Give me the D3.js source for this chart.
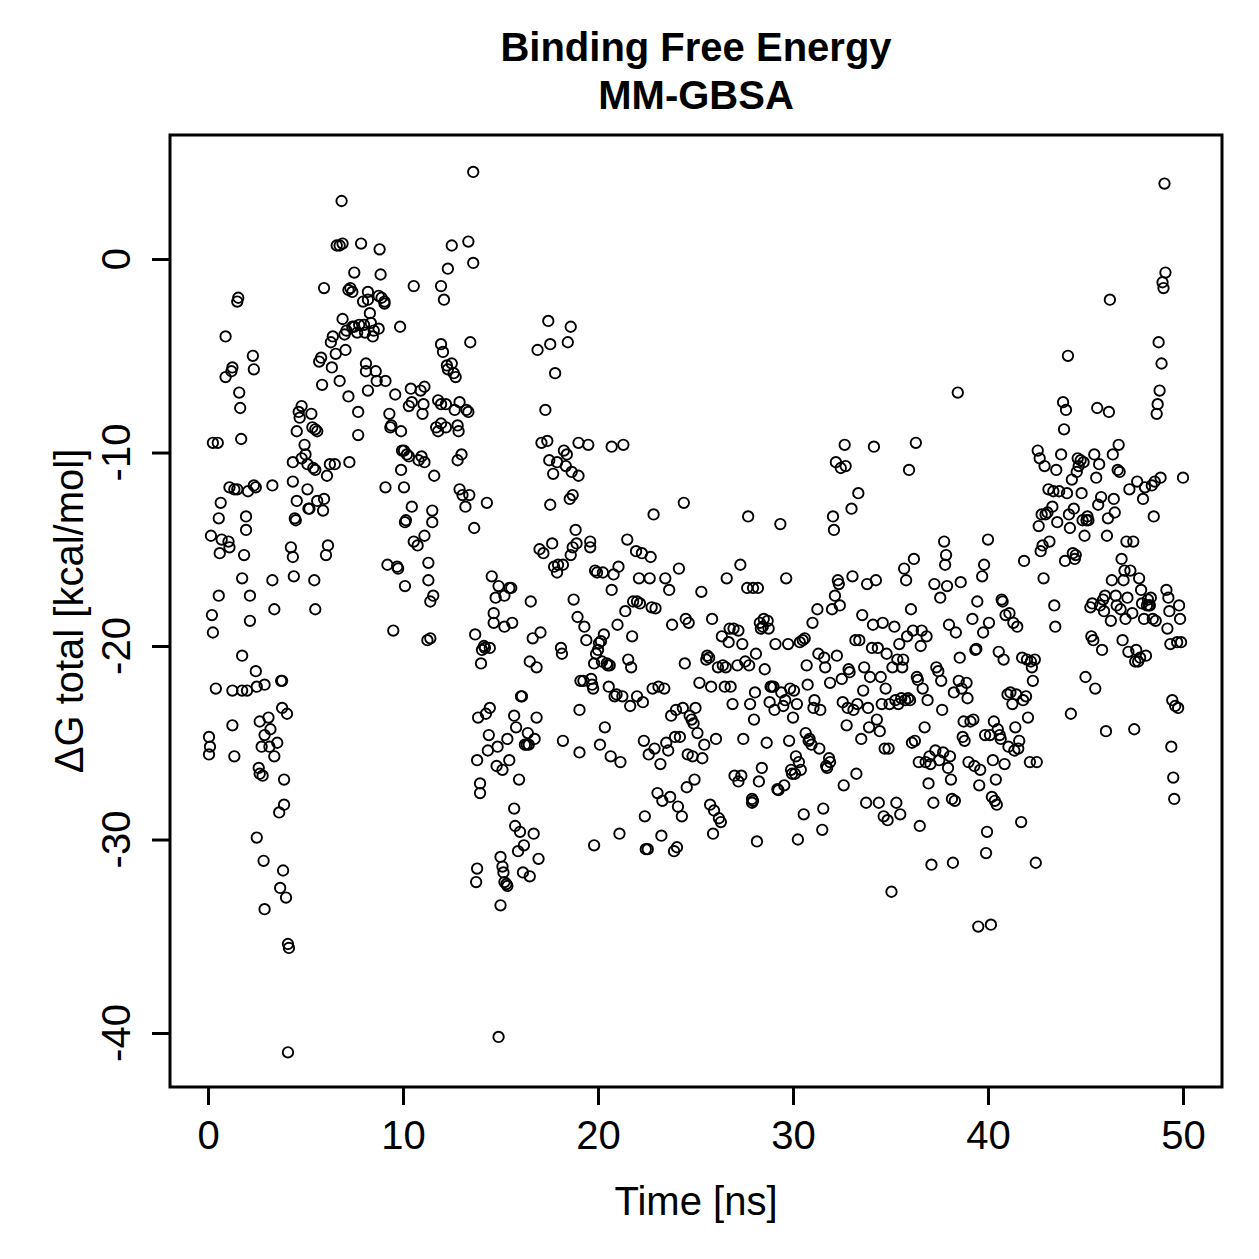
<!DOCTYPE html>
<html>
<head>
<meta charset="utf-8">
<script src="https://cdn.jsdelivr.net/npm/d3@7"></script>
<style>
  html, body { margin: 0; padding: 0; background: #fff; }
  svg { display: block; }
  text { font-family: "Liberation Sans", Arial, Helvetica, sans-serif; fill: #000; }
</style>
</head>
<body>
<svg id="chart" width="1259" height="1259"></svg>
<script>
// ---- Data: [time (ns), ΔG total (kcal/mol)] ----
const seg0to5 = [[0.05,-24.7],[0.05,-25.6],[0.1,-25.2],[0.15,-14.3],[0.2,-18.4],[0.25,-19.3],[0.25,-9.5],[0.4,-22.2],[0.5,-9.5],[0.55,-13.4],[0.55,-17.4],[0.6,-15.2],[0.65,-12.6],[0.7,-14.5],[0.9,-4.0],[0.9,-6.1],[1.05,-14.6],[1.1,-11.8],[1.1,-14.9],[1.2,-5.8],[1.25,-5.6],[1.25,-22.3],[1.25,-24.1],[1.35,-25.7],[1.35,-11.9],[1.5,-2.2],[1.55,-2.0],[1.6,-6.9],[1.65,-7.7],[1.7,-9.3],[1.5,-11.9],[1.75,-16.5],[1.75,-20.5],[1.75,-22.3],[1.85,-15.3],[1.95,-13.3],[1.95,-14.0],[2.05,-12.0],[2.15,-17.4],[2.15,-18.7],[2.0,-22.3],[2.3,-5.0],[2.35,-5.7],[2.35,-11.7],[2.45,-11.8],[2.45,-21.3],[2.5,-22.1],[2.6,-26.3],[2.65,-26.6],[2.5,-29.9],[2.65,-23.9],[2.75,-25.2],[2.8,-26.7],[2.85,-31.1],[2.9,-33.6],[2.9,-24.6],[2.9,-22.0],[3.1,-23.7],[3.2,-24.3],[3.15,-25.2],[3.3,-11.7],[3.3,-16.6],[3.4,-18.1],[3.4,-25.7],[3.55,-25.0],[3.65,-28.6],[3.7,-32.5],[3.75,-21.8],[3.8,-21.8],[3.8,-23.2],[3.85,-31.6],[3.9,-26.9],[3.9,-28.2],[4.0,-33.0],[4.1,-35.4],[4.15,-35.6],[4.1,-41.0],[4.05,-23.5],[4.25,-14.9],[4.35,-15.4],[4.4,-16.4],[4.35,-10.5],[4.35,-11.5],[4.45,-13.4],[4.5,-13.5],[4.55,-12.5],[4.55,-8.9],[4.65,-7.9],[4.7,-8.2],[4.8,-7.6],[4.8,-10.3]];
const seg5to10 = [[5.0,-10.1],[4.95,-9.6],[5.1,-10.6],[5.1,-11.9],[5.15,-12.9],[5.2,-12.9],[5.3,-8.0],[5.35,-8.7],[5.5,-8.8],[5.6,-8.9],[5.4,-10.8],[5.5,-10.9],[5.45,-16.6],[5.5,-18.1],[5.6,-12.5],[5.7,-5.3],[5.8,-5.1],[5.95,-1.5],[5.85,-6.5],[5.9,-13.0],[5.95,-12.4],[6.05,-15.3],[6.15,-14.8],[6.1,-11.2],[6.25,-10.6],[6.3,-4.3],[6.35,-5.6],[6.4,-4.0],[6.55,-4.9],[6.5,-10.6],[6.6,0.7],[6.75,0.7],[6.75,-6.3],[6.85,3.0],[6.9,0.8],[6.9,-3.1],[7.0,-3.9],[7.1,-3.7],[7.05,-4.7],[7.2,-1.6],[7.3,-1.5],[7.4,-1.7],[7.2,-7.1],[7.25,-10.5],[7.4,-3.5],[7.5,-3.5],[7.5,-0.7],[7.65,-3.8],[7.75,-3.4],[7.7,-9.1],[7.7,-7.9],[7.85,0.8],[7.95,-2.2],[8.0,-3.4],[8.05,-3.8],[8.1,-5.4],[8.1,-5.8],[8.2,-1.7],[8.2,-2.1],[8.2,-6.8],[8.3,-2.8],[8.35,-3.3],[8.45,-4.0],[8.5,-3.7],[8.6,-5.8],[8.65,-6.3],[8.75,-1.9],[8.75,-3.6],[8.8,0.5],[8.85,-0.8],[8.9,-2.0],[9.05,-2.2],[9.05,-2.3],[9.1,-6.3],[9.1,-11.8],[9.2,-15.8],[9.3,-8.0],[9.35,-8.7],[9.4,-8.6],[9.5,-19.2],[9.6,-7.0],[9.7,-15.9],[9.75,-16.0],[9.85,-3.5],[9.9,-10.9],[9.9,-8.9],[9.95,-9.9]];
const seg10to15 = [[10.05,-9.9],[10.2,-10.1],[10.3,-10.2],[10.05,-11.8],[10.1,-13.6],[10.1,-16.9],[10.15,-13.5],[10.3,-7.6],[10.4,-6.7],[10.55,-1.4],[10.45,-7.4],[10.45,-12.8],[10.55,-14.6],[10.75,-14.8],[10.8,-10.4],[10.9,-6.8],[11.0,-8.0],[10.95,-10.2],[11.05,-7.5],[11.1,-6.6],[11.1,-10.5],[11.1,-14.3],[11.3,-15.7],[11.3,-16.6],[11.25,-19.7],[11.4,-19.6],[11.4,-17.7],[11.55,-17.4],[11.5,-13.0],[11.5,-13.6],[11.6,-11.2],[11.7,-8.7],[11.8,-8.9],[11.8,-7.3],[11.95,-7.5],[11.95,-8.5],[11.95,-1.4],[12.1,-2.1],[11.95,-4.4],[12.05,-4.8],[12.25,-5.5],[12.3,-5.7],[12.2,-7.5],[12.2,-8.7],[12.3,-0.5],[12.5,0.7],[12.5,-5.4],[12.6,-5.9],[12.65,-7.8],[12.7,-6.1],[12.8,-8.6],[12.9,-7.4],[12.85,-8.9],[12.8,-10.4],[12.9,-11.9],[13.0,-10.1],[13.05,-12.2],[13.2,-12.8],[13.25,-7.8],[13.35,-7.9],[13.35,0.9],[13.4,-12.2],[13.45,-4.3],[13.6,-0.2],[13.6,4.5],[13.65,-13.9],[13.7,-19.4],[13.8,-25.9],[13.8,-31.5],[13.75,-32.2],[13.85,-23.7],[13.95,-27.1],[13.95,-27.6],[14.0,-20.9],[14.05,-20.2],[14.15,-20.0],[14.2,-20.1],[14.25,-23.5],[14.3,-12.6],[14.35,-25.4],[14.4,-24.6],[14.45,-20.1],[14.45,-23.2],[14.55,-16.4],[14.65,-18.3],[14.65,-18.8],[14.75,-17.5],[14.8,-26.2],[14.85,-25.2],[14.9,-40.2],[14.9,-16.9]];
const seg15to20 = [[15.0,-33.4],[15.0,-30.9],[15.1,-31.4],[15.1,-26.4],[15.15,-31.7],[15.2,-32.2],[15.3,-32.3],[15.35,-32.4],[15.2,-19.0],[15.2,-17.4],[15.35,-24.8],[15.45,-25.9],[15.45,-17.0],[15.55,-17.0],[15.6,-18.8],[15.7,-23.6],[15.7,-28.4],[15.75,-29.3],[15.8,-24.2],[15.9,-30.6],[15.95,-26.9],[16.0,-29.6],[16.05,-22.6],[16.1,-22.6],[16.15,-31.7],[16.2,-30.3],[16.25,-25.1],[16.35,-25.1],[16.4,-24.5],[16.45,-25.1],[16.5,-20.8],[16.5,-31.9],[16.55,-17.7],[16.65,-19.6],[16.7,-29.7],[16.75,-24.8],[16.85,-21.1],[16.85,-23.7],[16.9,-4.7],[16.95,-31.0],[17.0,-15.0],[17.05,-19.3],[17.1,-9.5],[17.2,-15.2],[17.3,-7.8],[17.4,-9.4],[17.45,-3.2],[17.55,-4.4],[17.5,-10.4],[17.55,-12.7],[17.65,-14.7],[17.7,-11.1],[17.75,-15.9],[17.8,-5.9],[17.9,-10.5],[17.9,-16.2],[17.95,-15.8],[18.1,-20.1],[18.15,-20.4],[18.2,-24.9],[18.2,-15.8],[18.25,-9.9],[18.35,-10.7],[18.4,-10.1],[18.45,-4.3],[18.55,-12.4],[18.6,-3.5],[18.6,-15.3],[18.65,-11.0],[18.7,-12.2],[18.7,-14.9],[18.75,-17.6],[18.85,-14.0],[18.9,-14.7],[18.95,-18.5],[19.0,-11.2],[19.0,-9.5],[19.05,-23.3],[19.05,-25.5],[19.1,-21.8],[19.25,-21.8],[19.3,-19.0],[19.4,-19.7],[19.5,-9.6],[19.6,-14.6],[19.6,-14.9],[19.65,-21.7],[19.7,-22.0],[19.75,-22.2],[19.8,-30.3],[19.8,-20.9],[19.85,-16.1],[19.9,-20.4],[19.95,-16.2]];
const seg20to25 = [[20.0,-20.2],[20.05,-19.85],[20.15,-19.75],[20.1,-25.1],[20.2,-20.8],[20.25,-16.2],[20.3,-19.4],[20.35,-24.2],[20.45,-20.9],[20.5,-21.0],[20.6,-21.0],[20.55,-22.1],[20.65,-25.7],[20.7,-17.1],[20.7,-9.7],[20.8,-16.3],[20.85,-22.6],[20.95,-22.5],[21.0,-18.9],[21.05,-15.9],[21.1,-29.7],[21.15,-26.0],[21.25,-22.6],[21.3,-9.6],[21.4,-18.2],[21.5,-14.5],[21.55,-20.7],[21.65,-23.1],[21.7,-21.1],[21.75,-19.5],[21.8,-17.7],[21.95,-15.1],[22.0,-17.7],[22.0,-22.6],[22.1,-16.5],[22.15,-17.8],[22.25,-15.2],[22.3,-22.9],[22.35,-24.9],[22.4,-28.8],[22.45,-30.5],[22.55,-30.5],[22.6,-25.6],[22.65,-16.5],[22.7,-15.4],[22.75,-18.0],[22.8,-22.2],[22.85,-13.2],[22.9,-25.3],[22.95,-18.05],[23.05,-27.6],[23.1,-22.1],[23.2,-26.1],[23.25,-29.8],[23.3,-28.0],[23.4,-22.2],[23.45,-16.5],[23.5,-25.0],[23.6,-25.4],[23.65,-17.1],[23.7,-27.8],[23.75,-23.6],[23.8,-18.9],[23.9,-30.6],[23.95,-24.7],[24.0,-23.3],[24.05,-30.4],[24.1,-28.3],[24.15,-16.0],[24.2,-24.7],[24.3,-28.8],[24.35,-23.2],[24.4,-12.6],[24.45,-20.9],[24.5,-18.6],[24.55,-27.3],[24.6,-25.6],[24.65,-18.8],[24.7,-23.6],[24.8,-23.8],[24.9,-24.0],[24.85,-25.7],[24.95,-26.9]];
const seg25to30 = [[25.0,-23.2],[25.1,-24.5],[25.2,-21.9],[25.3,-17.2],[25.35,-25.8],[25.45,-25.1],[25.55,-20.7],[25.6,-20.5],[25.7,-20.6],[25.75,-28.2],[25.8,-22.1],[25.85,-18.6],[25.9,-29.7],[25.95,-28.5],[26.05,-24.8],[26.15,-21.1],[26.2,-28.9],[26.3,-29.1],[26.35,-19.5],[26.4,-21.0],[26.5,-22.1],[26.55,-21.1],[26.6,-16.5],[26.7,-19.8],[26.75,-19.1],[26.8,-22.1],[26.9,-23.0],[26.95,-19.1],[27.0,-26.7],[27.15,-21.0],[27.2,-19.2],[27.2,-27.0],[27.3,-15.8],[27.35,-26.7],[27.4,-19.9],[27.45,-24.8],[27.55,-20.8],[27.65,-17.0],[27.7,-13.3],[27.75,-21.0],[27.8,-23.0],[27.9,-27.9],[27.9,-28.1],[27.95,-28.0],[27.95,-17.0],[28.0,-23.8],[28.05,-22.4],[28.1,-20.4],[28.15,-30.1],[28.2,-17.0],[28.25,-27.0],[28.3,-18.8],[28.35,-19.1],[28.45,-19.0],[28.4,-26.3],[28.5,-18.6],[28.55,-21.2],[28.65,-25.0],[28.7,-18.7],[28.75,-19.1],[28.8,-22.9],[28.85,-22.1],[28.9,-22.1],[29.0,-22.1],[29.05,-23.3],[29.1,-19.9],[29.2,-27.4],[29.25,-27.45],[29.35,-13.7],[29.4,-22.4],[29.5,-23.1],[29.55,-27.2],[29.6,-22.8],[29.65,-16.5],[29.75,-19.9],[29.8,-24.9],[29.85,-22.2],[29.9,-26.4],[29.95,-26.6],[30.0,-23.7]];
const seg30to35 = [[30.05,-22.3],[30.1,-26.6],[30.15,-25.7],[30.2,-23.0],[30.25,-30.0],[30.3,-26.0],[30.35,-19.8],[30.4,-26.4],[30.5,-19.7],[30.55,-28.7],[30.6,-19.6],[30.65,-24.5],[30.7,-21.0],[30.75,-22.0],[30.8,-24.9],[30.85,-24.8],[30.95,-25.1],[31.0,-18.8],[31.05,-23.2],[31.1,-22.8],[31.25,-18.1],[31.3,-20.4],[31.35,-25.3],[31.4,-23.3],[31.5,-29.5],[31.55,-28.4],[31.6,-20.6],[31.65,-21.1],[31.7,-26.2],[31.75,-26.3],[31.85,-25.8],[31.9,-26.0],[31.9,-21.9],[32.0,-18.1],[32.05,-13.3],[32.1,-14.0],[32.15,-17.4],[32.2,-10.5],[32.25,-20.5],[32.3,-16.6],[32.35,-16.8],[32.4,-17.9],[32.45,-10.8],[32.5,-21.7],[32.55,-22.9],[32.6,-27.2],[32.65,-9.6],[32.7,-10.7],[32.75,-24.1],[32.8,-23.2],[32.85,-21.2],[32.9,-21.35],[33.0,-12.9],[33.05,-16.4],[33.1,-23.3],[33.2,-19.7],[33.25,-26.6],[33.3,-23.0],[33.35,-12.1],[33.4,-19.7],[33.5,-24.8],[33.55,-18.4],[33.6,-22.3],[33.65,-21.1],[33.75,-28.1],[33.8,-16.8],[33.85,-23.2],[33.9,-24.2],[33.95,-21.6],[34.05,-20.1],[34.1,-18.9],[34.15,-9.7],[34.25,-16.6],[34.3,-23.8],[34.35,-20.1],[34.4,-28.1],[34.45,-24.4],[34.5,-21.6],[34.55,-23.0],[34.6,-18.8],[34.65,-28.8],[34.7,-25.3],[34.75,-22.2],[34.8,-20.4],[34.85,-29.0],[34.9,-25.3],[34.95,-23.0]];
const seg35to40 = [[35.05,-32.7],[35.1,-21.1],[35.2,-19.0],[35.25,-22.8],[35.3,-28.1],[35.35,-20.7],[35.4,-23.0],[35.45,-19.9],[35.5,-28.7],[35.55,-22.7],[35.6,-21.1],[35.65,-20.7],[35.7,-16.0],[35.75,-22.8],[35.8,-16.6],[35.85,-19.5],[35.9,-22.7],[35.95,-10.9],[36.0,-22.8],[36.05,-18.1],[36.1,-25.0],[36.15,-19.2],[36.2,-15.5],[36.25,-24.9],[36.3,-9.5],[36.35,-21.6],[36.4,-21.75],[36.45,-26.0],[36.5,-29.3],[36.55,-20.0],[36.6,-19.2],[36.65,-22.2],[36.75,-24.2],[36.8,-26.0],[36.85,-19.5],[36.9,-22.8],[36.95,-27.1],[37.0,-25.7],[37.05,-26.1],[37.1,-31.3],[37.2,-28.1],[37.25,-16.8],[37.3,-25.4],[37.35,-21.1],[37.45,-21.3],[37.5,-25.9],[37.55,-17.5],[37.6,-21.8],[37.65,-23.3],[37.7,-25.5],[37.75,-14.6],[37.8,-15.8],[37.85,-15.3],[37.9,-16.9],[37.95,-26.3],[38.0,-18.9],[38.05,-25.7],[38.1,-26.9],[38.15,-27.9],[38.2,-31.2],[38.25,-22.4],[38.3,-28.0],[38.35,-19.3],[38.45,-6.9],[38.5,-21.8],[38.55,-20.6],[38.6,-16.7],[38.65,-22.2],[38.7,-24.7],[38.75,-23.9],[38.8,-24.9],[38.9,-21.9],[38.95,-22.7],[39.0,-26.0],[39.1,-23.9],[39.2,-18.6],[39.25,-23.8],[39.3,-26.2],[39.35,-20.2],[39.4,-20.15],[39.45,-17.7],[39.5,-34.5],[39.55,-27.2],[39.6,-26.4],[39.7,-16.4],[39.75,-19.3],[39.8,-15.8],[39.85,-24.6],[39.9,-30.7],[39.95,-29.6],[40.0,-14.5]];
const seg40to45 = [[40.05,-18.8],[40.1,-24.6],[40.15,-34.4],[40.2,-27.8],[40.25,-25.9],[40.3,-23.9],[40.35,-28.0],[40.4,-26.9],[40.45,-28.2],[40.5,-24.3],[40.55,-20.3],[40.6,-24.6],[40.65,-24.8],[40.7,-17.6],[40.75,-17.7],[40.8,-20.7],[40.85,-26.1],[40.9,-18.4],[41.0,-22.5],[41.05,-25.2],[41.1,-18.3],[41.15,-22.4],[41.25,-23.0],[41.3,-18.8],[41.35,-25.4],[41.4,-24.2],[41.45,-22.5],[41.5,-19.0],[41.55,-25.3],[41.6,-24.9],[41.7,-29.1],[41.75,-20.6],[41.8,-22.8],[41.85,-15.6],[41.95,-22.6],[42.0,-20.7],[42.05,-23.7],[42.15,-26.0],[42.2,-20.8],[42.25,-21.1],[42.3,-21.8],[42.4,-20.7],[42.45,-31.2],[42.5,-26.0],[42.55,-9.9],[42.6,-13.8],[42.65,-10.3],[42.7,-15.1],[42.75,-13.2],[42.8,-14.8],[42.85,-16.5],[42.9,-10.7],[42.95,-13.2],[43.05,-13.1],[43.1,-11.9],[43.15,-14.6],[43.3,-12.8],[43.35,-12.0],[43.4,-17.9],[43.45,-19.0],[43.5,-10.9],[43.55,-13.6],[43.65,-12.0],[43.75,-10.1],[43.85,-7.4],[43.9,-8.8],[43.95,-15.6],[44.0,-7.8],[44.05,-12.1],[44.1,-5.0],[44.15,-13.2],[44.2,-13.9],[44.25,-23.5],[44.3,-11.4],[44.35,-15.2],[44.4,-12.9],[44.45,-15.5],[44.5,-15.3],[44.55,-11.0],[44.6,-10.3],[44.65,-10.7],[44.75,-10.4],[44.8,-12.1],[44.85,-13.5],[44.9,-10.5],[44.95,-14.3]];
const seg45to50 = [[45.0,-21.6],[45.05,-13.5],[45.1,-13.3],[45.15,-13.5],[45.25,-18.0],[45.3,-19.5],[45.35,-17.8],[45.4,-19.7],[45.45,-10.1],[45.5,-22.2],[45.55,-11.3],[45.6,-7.7],[45.65,-12.7],[45.7,-10.6],[45.75,-17.9],[45.8,-12.3],[45.85,-20.2],[45.9,-17.6],[45.95,-18.2],[46.0,-17.4],[46.05,-24.4],[46.1,-14.3],[46.15,-13.4],[46.2,-7.9],[46.25,-2.1],[46.3,-18.7],[46.35,-16.6],[46.4,-10.1],[46.45,-12.4],[46.5,-13.1],[46.55,-17.4],[46.6,-17.9],[46.65,-10.9],[46.7,-9.6],[46.75,-11.0],[46.8,-18.1],[46.85,-15.5],[46.9,-19.7],[46.95,-16.6],[47.0,-16.1],[47.05,-18.6],[47.1,-14.6],[47.15,-17.5],[47.2,-20.3],[47.25,-11.9],[47.3,-16.1],[47.4,-18.3],[47.45,-14.6],[47.5,-24.3],[47.55,-20.8],[47.6,-20.2],[47.65,-11.5],[47.7,-20.8],[47.75,-16.5],[47.8,-20.6],[47.85,-17.1],[47.9,-17.8],[47.95,-12.4],[48.0,-18.6],[48.05,-11.8],[48.1,-20.5],[48.15,-17.9],[48.2,-17.6],[48.25,-17.9],[48.3,-17.9],[48.35,-17.5],[48.4,-11.7],[48.45,-18.6],[48.5,-13.3],[48.55,-11.5],[48.6,-18.7],[48.65,-8.0],[48.7,-7.5],[48.75,-4.3],[48.8,-6.8],[48.85,-11.3],[48.9,-5.4],[48.95,-1.2],[49.0,-1.5],[49.05,3.9],[49.1,-0.7],[49.15,-17.1],[49.2,-19.1],[49.25,-17.5],[49.3,-18.2],[49.35,-19.9],[49.4,-25.2],[49.45,-22.8],[49.5,-26.8],[49.55,-27.9],[49.6,-23.1],[49.7,-19.8],[49.75,-23.2],[49.8,-17.9],[49.85,-18.6],[49.9,-19.8],[50.0,-11.3]];

const xTicks = [0, 10, 20, 30, 40, 50];
const yTicks = [0, -10, -20, -30, -40];
const titleLines = ["Binding Free Energy", "MM-GBSA"];
const xLabel = "Time [ns]";
const yLabel = "ΔG total [kcal/mol]";

// ---- Layout ----
const W = 1259, H = 1259;
const plot = { left: 170, right: 1222, top: 135, bottom: 1087 };
const FS = 40;

const allPoints = [].concat(seg0to5, seg5to10, seg10to15, seg15to20, seg20to25,
                            seg25to30, seg30to35, seg35to40, seg40to45, seg45to50);

const x = d3.scaleLinear().domain([-1.95, 52]).range([plot.left, plot.right]);
const y = d3.scaleLinear().domain([6.41, -42.79]).range([plot.top, plot.bottom]);

const svg = d3.select("#chart");
svg.append("rect").attr("width", W).attr("height", H).attr("fill", "#fff");

// points
svg.append("g")
  .selectAll("circle")
  .data(allPoints)
  .join("circle")
  .attr("cx", d => x(d[0]))
  .attr("cy", d => y(d[1]))
  .attr("r", 5.2)
  .attr("fill", "none")
  .attr("stroke", "#000")
  .attr("stroke-width", 1.9);

// box
svg.append("rect")
  .attr("x", plot.left).attr("y", plot.top)
  .attr("width", plot.right - plot.left).attr("height", plot.bottom - plot.top)
  .attr("fill", "none").attr("stroke", "#000").attr("stroke-width", 3);

// x axis
const gx = svg.append("g")
  .attr("transform", `translate(0,${plot.bottom})`)
  .call(d3.axisBottom(x).tickValues(xTicks).tickSize(18).tickSizeOuter(0).tickPadding(16));
gx.select(".domain").remove();
gx.selectAll(".tick line").attr("stroke", "#000").attr("stroke-width", 3);
gx.selectAll(".tick text").attr("font-size", FS).attr("fill", "#000")
  .attr("font-family", "'Liberation Sans', Arial, sans-serif");

// y axis
const gy = svg.append("g")
  .attr("transform", `translate(${plot.left},0)`)
  .call(d3.axisLeft(y).tickValues(yTicks).tickSize(18).tickSizeOuter(0));
gy.select(".domain").remove();
gy.selectAll(".tick line").attr("stroke", "#000").attr("stroke-width", 3);
gy.selectAll(".tick text").remove();
svg.append("g").selectAll("text")
  .data(yTicks)
  .join("text")
  .attr("transform", d => `translate(130,${y(d)}) rotate(-90)`)
  .attr("text-anchor", "middle")
  .attr("font-size", FS)
  .text(d => d);

// titles
svg.append("text")
  .attr("x", (plot.left + plot.right) / 2).attr("y", 61)
  .attr("text-anchor", "middle").attr("font-size", FS).attr("font-weight", "bold")
  .text(titleLines[0]);
svg.append("text")
  .attr("x", (plot.left + plot.right) / 2).attr("y", 109)
  .attr("text-anchor", "middle").attr("font-size", FS).attr("font-weight", "bold")
  .text(titleLines[1]);

// axis labels
svg.append("text")
  .attr("x", (plot.left + plot.right) / 2).attr("y", 1215)
  .attr("text-anchor", "middle").attr("font-size", FS)
  .text(xLabel);
svg.append("text")
  .attr("transform", `translate(83,${(plot.top + plot.bottom) / 2}) rotate(-90)`)
  .attr("text-anchor", "middle").attr("font-size", FS)
  .text(yLabel);
</script>
</body>
</html>
